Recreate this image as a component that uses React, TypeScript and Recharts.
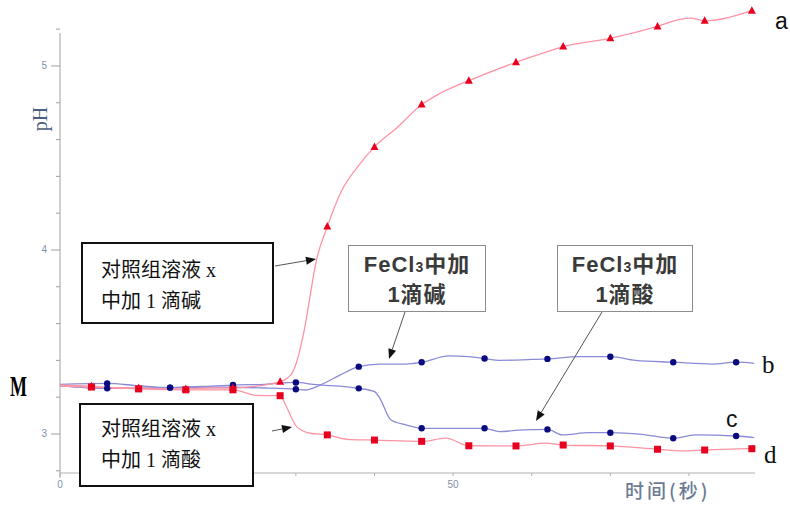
import { Line, LineChart, ReferenceLine, XAxis, YAxis } from "recharts";

// time (s) and pH
const aTime = [0, 4, 7, 10, 13, 16, 19, 22, 25, 28, 29.5, 30.3, 31, 32.7, 34, 35.8, 38, 40, 43, 46, 48.3, 52, 58, 62, 64, 70, 76, 79, 80.2, 82, 88];
const aPH = [3.265, 3.26, 3.25, 3.25, 3.245, 3.245, 3.25, 3.25, 3.26, 3.284, 3.33, 3.42, 3.55, 3.96, 4.127, 4.32, 4.46, 4.56, 4.67, 4.79, 4.85, 4.92, 5.02, 5.078, 5.105, 5.15, 5.215, 5.255, 5.26, 5.245, 5.3];

const bTime = [0, 6, 10, 14, 18, 22, 26, 30, 31.2, 33.1, 35.6, 38, 40.6, 44, 46, 49.5, 52, 54, 56, 60, 62, 66, 70, 73.2, 78, 83, 86, 88.3];
const bPH = [3.27, 3.275, 3.262, 3.252, 3.255, 3.254, 3.25, 3.243, 3.239, 3.266, 3.32, 3.366, 3.38, 3.38, 3.39, 3.424, 3.42, 3.41, 3.4, 3.405, 3.408, 3.42, 3.42, 3.4, 3.39, 3.38, 3.39, 3.384];

const cTime = [0, 6, 10, 14, 18, 22, 26, 30, 32.2, 38, 40, 40.6, 42.1, 44, 46, 54, 55.9, 58.9, 62, 63.9, 67.3, 70, 74, 78, 80.8, 86, 88.3];
const cPH = [3.262, 3.248, 3.25, 3.252, 3.258, 3.266, 3.27, 3.28, 3.27, 3.248, 3.23, 3.2, 3.076, 3.05, 3.031, 3.031, 3.013, 3.022, 3.025, 2.995, 3.007, 3.007, 2.998, 2.977, 2.995, 2.989, 2.98];

const dTime = [0, 4, 10, 16, 22, 25, 28, 28.8, 30.1, 31.8, 34, 36.5, 40, 46, 49.1, 52, 58, 61.8, 64, 70, 76, 79.2, 82, 88];
const dPH = [3.26, 3.255, 3.245, 3.24, 3.24, 3.21, 3.208, 3.148, 3.04, 3.004, 2.995, 2.971, 2.967, 2.96, 2.977, 2.936, 2.935, 2.95, 2.94, 2.935, 2.917, 2.908, 2.913, 2.92];

// sample times that carry a marker
const redMarks = [4, 10, 16, 22, 28, 34, 40, 46, 52, 58, 64, 70, 76, 82, 88];
const blueMarks = [6, 14, 22, 30, 38, 46, 54, 62, 70, 78, 86];

const xTicks = [0, 10, 20, 30, 40, 50, 60, 70, 80];
const xLabels = [0, 50];
const yTicks = [2.8, 3, 3.2, 3.4, 3.6, 3.8, 4, 4.2, 4.4, 4.6, 4.8, 5, 5.2];

const pink = "#ff93a4";
const red = "#e8001f";
const lilac = "#8a8ad8";
const navy = "#0b0b80";

const toRows = (t: number[], v: number[]) => t.map((x, i) => ({ t: x, ph: v[i] }));

function makeDot(marks: number[], shape: "tri" | "sq" | "dot", color: string) {
  return function Dot(props: any) {
    const { cx, cy, payload, index } = props;
    const key = `${shape}-${index}`;
    if (cx == null || cy == null || !marks.includes(payload?.t)) return <g key={key} />;
    if (shape === "sq")
      return <rect key={key} x={cx - 3.5} y={cy - 3.5} width={7} height={7} fill={color} />;
    if (shape === "tri")
      return (
        <polygon key={key} points={`${cx},${cy - 4.5} ${cx - 4},${cy + 3} ${cx + 4},${cy + 3}`} fill={color} />
      );
    return <circle key={key} cx={cx} cy={cy} r={3.2} fill={color} />;
  };
}

function YTick(props: any) {
  const { x, y, payload } = props;
  const major = Math.abs(payload.value - Math.round(payload.value)) < 1e-6;
  return (
    <g>
      <line x1={x - (major ? 9 : 4)} x2={x} y1={y} y2={y} stroke="#a0a0a0" />
      {major ? (
        <text x={x - 13} y={y} dy={3} textAnchor="end" fontSize={10} fill="#8090a8" fontFamily="Liberation Sans, Arial">
          {payload.value}
        </text>
      ) : null}
    </g>
  );
}

function Arrow({ x1, y1, x2, y2 }: { x1: number; y1: number; x2: number; y2: number }) {
  const a = Math.atan2(y2 - y1, x2 - x1);
  const L = 10;
  const W = 4;
  const bx = x2 - L * Math.cos(a);
  const by = y2 - L * Math.sin(a);
  const p1 = `${bx + W * Math.sin(a)},${by - W * Math.cos(a)}`;
  const p2 = `${bx - W * Math.sin(a)},${by + W * Math.cos(a)}`;
  return (
    <g>
      <line x1={x1} y1={y1} x2={bx} y2={by} stroke="#555" strokeWidth={1} />
      <polygon points={`${x2},${y2} ${p1} ${p2}`} fill="#111" />
    </g>
  );
}

const boxText: React.CSSProperties = {
  position: "absolute",
  background: "#fff",
  boxSizing: "border-box",
  fontFamily: "'Liberation Serif', 'Noto Sans CJK SC', serif",
  fontSize: 20,
  color: "#111",
  lineHeight: "31px",
};

const feBox: React.CSSProperties = {
  position: "absolute",
  background: "#fff",
  boxSizing: "border-box",
  border: "1.5px solid #8c8c8c",
  fontFamily: "'Liberation Sans', 'Noto Sans CJK SC', sans-serif",
  fontWeight: 700,
  fontSize: 22,
  letterSpacing: 1,
  color: "#3a3a3a",
  lineHeight: "28px",
  textAlign: "center",
  paddingTop: 5,
};

export default function App() {
  return (
    <div style={{ position: "absolute", left: 0, top: 0, width: 790, height: 507, background: "#fff" }}>
      <LineChart width={790} height={507} margin={{ top: 10, right: 35, bottom: 4, left: 0 }}>
        <XAxis
          dataKey="t"
          type="number"
          domain={[0, 88.4]}
          ticks={xTicks}
          height={30}
          stroke="#b0b0b0"
          tickSize={3}
          tickMargin={5}
          tick={{ fontSize: 10, fill: "#8090a8", fontFamily: "Liberation Sans, Arial" }}
          tickFormatter={(v: number) => (xLabels.includes(v) ? String(v) : "")}
        />
        <YAxis
          type="number"
          domain={[2.788, 5.304]}
          ticks={yTicks}
          width={60}
          axisLine={false}
          tickLine={false}
          tickSize={0}
          tickMargin={0}
          tick={<YTick />}
          interval={0}
        />
        <ReferenceLine
          segment={[
            { x: 0, y: 2.761 },
            { x: 0, y: 5.179 },
          ]}
          stroke="#a0a0a0"
          ifOverflow="visible"
        />
        <Line data={toRows(bTime, bPH)} dataKey="ph" type="monotone" stroke={lilac} strokeWidth={1.3} dot={makeDot(blueMarks, "dot", navy)} isAnimationActive={false} />
        <Line data={toRows(cTime, cPH)} dataKey="ph" type="monotone" stroke={lilac} strokeWidth={1.3} dot={makeDot(blueMarks, "dot", navy)} isAnimationActive={false} />
        <Line data={toRows(aTime, aPH)} dataKey="ph" type="monotone" stroke={pink} strokeWidth={1.3} dot={makeDot(redMarks, "tri", red)} isAnimationActive={false} />
        <Line data={toRows(dTime, dPH)} dataKey="ph" type="monotone" stroke={pink} strokeWidth={1.3} dot={makeDot(redMarks, "sq", red)} isAnimationActive={false} />
      </LineChart>

      <svg width={790} height={507} style={{ position: "absolute", left: 0, top: 0, pointerEvents: "none" }}>
        <Arrow x1={275} y1={266} x2={316} y2={259} />
        <Arrow x1={272} y1={431} x2={292} y2={427} />
        <Arrow x1={405} y1={312} x2={389} y2={359} />
        <Arrow x1={602} y1={312} x2={536} y2={421} />
      </svg>

      <div style={{ ...boxText, left: 81, top: 242, width: 193, height: 82, border: "2px solid #111", padding: "11px 0 0 18px" }}>
        对照组溶液 x<br />中加 1 滴碱
      </div>
      <div style={{ ...boxText, left: 79, top: 403, width: 175, height: 84, border: "2px solid #111", padding: "9px 0 0 20px" }}>
        对照组溶液 x<br />中加 1 滴酸
      </div>
      <div style={{ ...feBox, left: 348, top: 245, width: 138, height: 67 }}>
        FeCl<span style={{ fontSize: 14 }}>3</span>中加<br />1滴碱
      </div>
      <div style={{ ...feBox, left: 557, top: 245, width: 136, height: 67 }}>
        FeCl<span style={{ fontSize: 14 }}>3</span>中加<br />1滴酸
      </div>

      <div style={{ position: "absolute", left: 28, top: 108, transform: "rotate(-90deg)", fontFamily: "'Liberation Serif', serif", fontSize: 20, color: "#4a5f80", lineHeight: "22px" }}>
        pH
      </div>
      <div style={{ position: "absolute", left: 10, top: 368, fontFamily: "'Liberation Serif', serif", fontWeight: 700, fontSize: 30, lineHeight: "36px", transform: "scaleX(0.6)", transformOrigin: "left" }}>
        M
      </div>
      <div style={{ position: "absolute", left: 625, top: 480, fontFamily: "'Noto Sans CJK SC', sans-serif", fontSize: 19, letterSpacing: 3, color: "#6c7a92", lineHeight: "20px", fontWeight: 500, whiteSpace: "nowrap" }}>
        时间(秒)
      </div>
      <div style={{ position: "absolute", left: 775, top: 6, fontFamily: "'Liberation Sans', Arial", fontSize: 23, lineHeight: "30px", color: "#111" }}>a</div>
      <div style={{ position: "absolute", left: 762, top: 350, fontFamily: "'Liberation Serif', serif", fontSize: 25, lineHeight: "30px", color: "#111" }}>b</div>
      <div style={{ position: "absolute", left: 726, top: 404, fontFamily: "'Liberation Sans', Arial", fontSize: 23, lineHeight: "30px", color: "#111" }}>c</div>
      <div style={{ position: "absolute", left: 764, top: 440, fontFamily: "'Liberation Serif', serif", fontSize: 25, lineHeight: "30px", color: "#111" }}>d</div>
    </div>
  );
}
